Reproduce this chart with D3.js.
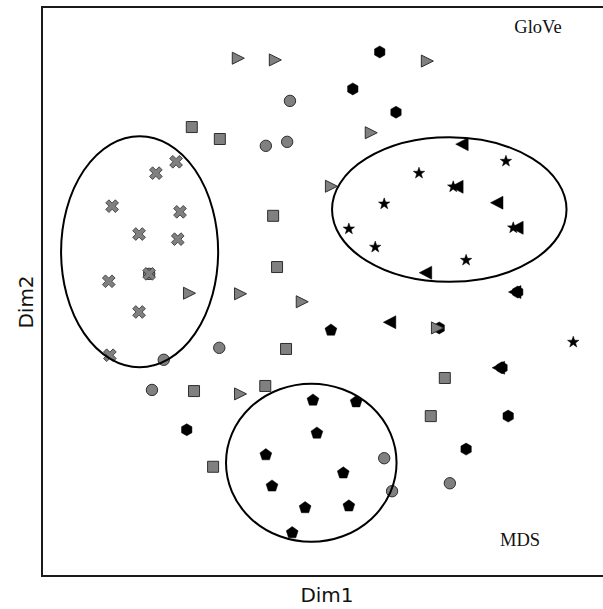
<!DOCTYPE html>
<html>
<head>
<meta charset="utf-8">
<script src="https://cdn.jsdelivr.net/npm/d3@7"></script>
<style>
  body { margin: 0; background: #fff; }
  svg { display: block; }
</style>
</head>
<body>
<svg id="chart" width="603" height="609"></svg>
<script>
// Word embedding projection: each group of words as [Dim1, Dim2]
const grayTrianglesRight = [
  [34.9, 91.0], [41.5, 90.7], [68.6, 90.5], [58.6, 77.9], [51.5, 68.5],
  [26.2, 49.7], [35.3, 49.6], [46.3, 48.2], [35.3, 32.0], [70.4, 43.6]
];
const grayCircles = [
  [44.2, 83.5], [39.9, 75.6], [43.7, 76.3], [31.6, 40.1], [21.7, 38.0],
  [19.6, 32.7], [61.0, 20.7], [62.4, 14.9], [72.7, 16.3], [19.1, 53.1]
];
const graySquares = [
  [26.7, 78.9], [31.7, 76.8], [41.2, 63.3], [41.9, 54.3], [43.5, 39.9],
  [27.1, 32.5], [39.8, 33.4], [30.5, 19.2], [71.8, 34.8], [69.3, 28.1]
];
const grayCrosses = [
  [23.9, 72.8], [20.3, 70.8], [12.5, 65.0], [24.6, 64.0], [17.3, 60.1],
  [24.2, 59.2], [19.1, 53.1], [11.9, 51.8], [17.3, 46.4], [12.1, 38.8]
];
const blackHexagons = [
  [60.2, 92.1], [55.4, 85.6], [63.1, 81.5], [25.8, 25.7], [83.1, 28.1],
  [75.6, 22.3], [84.8, 49.9], [82.0, 36.6], [70.8, 43.6]
];
const blackStars = [
  [82.7, 72.9], [67.2, 70.8], [61.0, 65.4], [54.7, 61.0], [59.4, 57.8],
  [75.6, 55.5], [73.3, 68.4], [84.0, 61.2], [94.7, 41.1]
];
const blackTrianglesLeft = [
  [74.9, 75.9], [81.1, 65.6], [68.4, 53.3], [74.0, 68.4], [84.7, 61.2],
  [62.0, 44.6], [84.3, 49.9], [81.4, 36.6]
];
const blackPentagons = [
  [51.5, 43.2], [56.0, 30.6], [53.7, 18.1], [54.7, 12.3], [48.3, 30.9],
  [49.0, 25.1], [39.9, 21.3], [41.0, 15.8], [46.9, 12.0], [44.6, 7.6]
];
// Cluster outlines: [centerDim1, centerDim2, radiusDim1, radiusDim2]
const clusterEllipses = [
  [17.4, 57.0, 14.0, 20.3],
  [72.6, 64.4, 20.9, 12.7],
  [48.0, 19.9, 15.2, 13.9]
];
const methodLabels = ["GloVe", "MDS"];
const axisTitles = ["Dim1", "Dim2"];

const svg = d3.select("#chart");
const x = d3.scaleLinear().domain([0, 100]).range([42, 603]);
const y = d3.scaleLinear().domain([0, 100]).range([576, 7]);

const GRAY = "#808080", EDGE = "#2e2e2e";

// shape path helpers (centered at 0,0)
function polygon(n, r, rot) {
  const pts = d3.range(n).map(i => {
    const a = rot + i * 2 * Math.PI / n;
    return [r * Math.cos(a), r * Math.sin(a)];
  });
  return "M" + pts.map(p => p.join(",")).join("L") + "Z";
}
function star(r) {
  const pts = d3.range(10).map(i => {
    const rr = i % 2 ? r * 0.4 : r;
    const a = -Math.PI / 2 + i * Math.PI / 5;
    return [rr * Math.cos(a), rr * Math.sin(a)];
  });
  return "M" + pts.map(p => p.join(",")).join("L") + "Z";
}
function cross(L, w) {
  const base = [[w, w], [w, L], [-w, L], [-w, w], [-L, w], [-L, -w], [-w, -w], [-w, -L], [w, -L], [w, -w], [L, -w], [L, w]];
  const c = Math.cos(Math.PI / 4), s = Math.sin(Math.PI / 4);
  const pts = base.map(([px, py]) => [px * c - py * s, px * s + py * c]);
  return "M" + pts.map(p => p.join(",")).join("L") + "Z";
}
const shapes = {
  triRight: "M-5.5,-6L6.5,0L-5.5,6Z",
  triLeft: "M6,-6.5L-6.5,0L6,6.5Z",
  circle: d3.symbol().type(d3.symbolCircle).size(Math.PI * 5.7 * 5.7)(),
  square: "M-5.5,-5.5H5.5V5.5H-5.5Z",
  cross: cross(6.8, 2.2),
  hexagon: polygon(6, 6, -Math.PI / 2),
  pentagon: polygon(5, 6.2, -Math.PI / 2),
  star: star(6.0)
};

// frame
svg.append("rect")
  .attr("x", x(0)).attr("y", y(100))
  .attr("width", 620).attr("height", y(0) - y(100))
  .attr("fill", "none").attr("stroke", "#1a1a1a").attr("stroke-width", 2);

function drawMarks(data, shape, fill, stroke, sw) {
  svg.append("g").selectAll("path").data(data).join("path")
    .attr("transform", d => `translate(${x(d[0])},${y(d[1])})`)
    .attr("d", shapes[shape])
    .attr("fill", fill)
    .attr("stroke", stroke)
    .attr("stroke-width", sw);
}

drawMarks(blackHexagons, "hexagon", "#000", "#000", 0.5);
drawMarks(grayCircles, "circle", GRAY, EDGE, 1);
drawMarks(graySquares, "square", GRAY, EDGE, 1);
drawMarks(grayCrosses, "cross", GRAY, EDGE, 0.8);
drawMarks(grayTrianglesRight, "triRight", GRAY, EDGE, 1);
drawMarks(blackStars, "star", "#000", "#000", 0.5);
drawMarks(blackTrianglesLeft, "triLeft", "#000", "#000", 0.5);
drawMarks(blackPentagons, "pentagon", "#000", "#000", 0.5);

// cluster ellipses
svg.append("g").selectAll("ellipse").data(clusterEllipses).join("ellipse")
  .attr("cx", d => x(d[0]))
  .attr("cy", d => y(d[1]))
  .attr("rx", d => x(d[0] + d[2]) - x(d[0]))
  .attr("ry", d => y(d[1] - d[3]) - y(d[1]))
  .attr("fill", "none")
  .attr("stroke", "#000")
  .attr("stroke-width", 2);

// method labels
svg.append("text").attr("x", 538).attr("y", 33)
  .attr("text-anchor", "middle")
  .style("font-family", "'Liberation Serif', 'DejaVu Serif', serif")
  .style("font-size", "18.5px").attr("fill", "#111")
  .text(methodLabels[0]);
svg.append("text").attr("x", 520).attr("y", 546)
  .attr("text-anchor", "middle")
  .style("font-family", "'Liberation Serif', 'DejaVu Serif', serif")
  .style("font-size", "18.5px").attr("fill", "#111")
  .text(methodLabels[1]);

// axis titles
svg.append("text").attr("x", 327).attr("y", 602)
  .attr("text-anchor", "middle")
  .style("font-family", "'DejaVu Sans', sans-serif")
  .style("font-size", "20px").attr("fill", "#111")
  .text(axisTitles[0]);
svg.append("text")
  .attr("transform", "translate(33,302) rotate(-90)")
  .attr("text-anchor", "middle")
  .style("font-family", "'DejaVu Sans', sans-serif")
  .style("font-size", "20px").attr("fill", "#111")
  .text(axisTitles[1]);
</script>
</body>
</html>
